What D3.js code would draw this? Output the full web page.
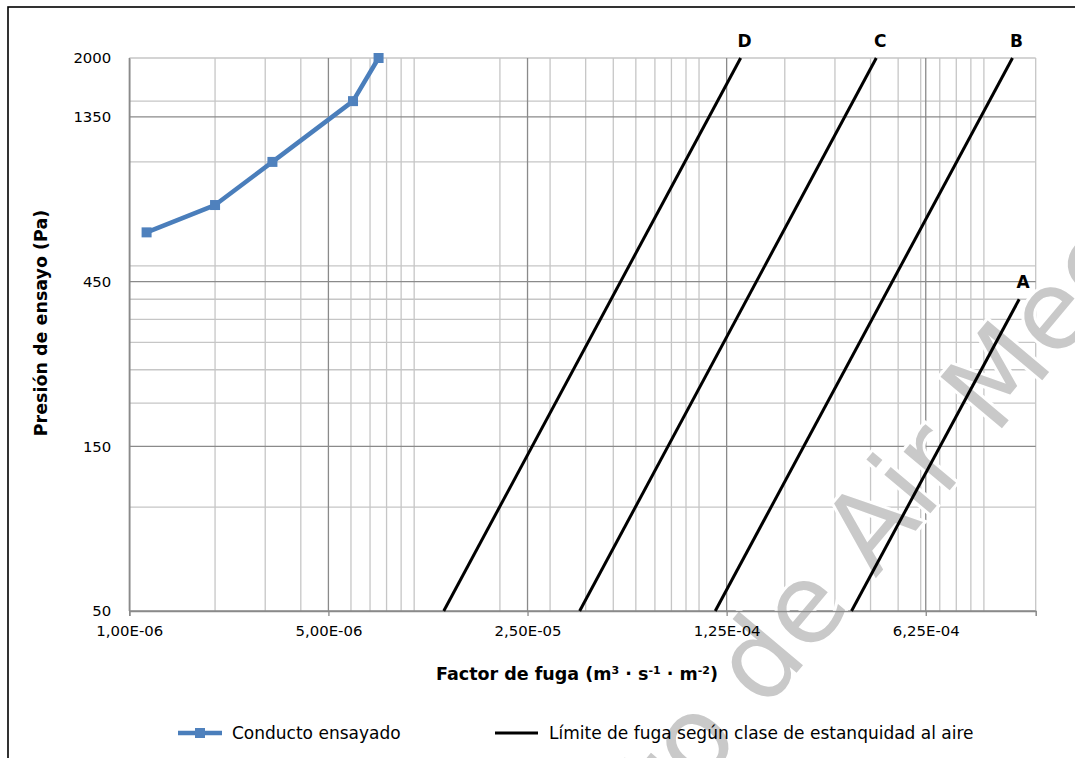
<!DOCTYPE html>
<html>
<head>
<meta charset="utf-8">
<script src="https://cdn.jsdelivr.net/npm/d3@7"></script>
<style>
  html, body { margin: 0; padding: 0; background: #fff; }
  svg { display: block; }
  text { font-family: "DejaVu Sans", Verdana, sans-serif; }
</style>
</head>
<body>
<svg id="chart" width="1075" height="758"></svg>
<script>
// ---------------- data ----------------
const xMajorTicks = [1e-6, 5e-6, 2.5e-5, 1.25e-4, 6.25e-4];
const xMajorLabels = ["1,00E-06", "5,00E-06", "2,50E-05", "1,25E-04", "6,25E-04"];
const xMinorTicks = [2e-6, 3e-6, 4e-6, 6e-6, 7e-6, 8e-6, 9e-6, 1e-5, 2e-5, 3e-5, 4e-5, 5e-5,
                     6e-5, 7e-5, 8e-5, 9e-5, 1e-4, 2e-4, 3e-4, 4e-4, 5e-4, 6e-4, 7e-4, 8e-4, 9e-4, 1e-3];
const yMajorTicks = [50, 150, 450, 1350];
const yLabelTicks = [50, 150, 450, 1350, 2000];
const yLabels = ["50", "150", "450", "1350", "2000"];
const yMinorTicks = [100, 200, 250, 300, 350, 400, 500, 1000, 1500, 2000];

// Tested duct
const testFlow = [1.15e-6, 2.0e-6, 3.18e-6, 6.1e-6, 7.5e-6];
const testPressure = [625, 750, 1000, 1500, 2000];

// Leakage limits per air tightness class
const classNames = ["A", "B", "C", "D"];
const classPressure = [[50, 400], [50, 2000], [50, 2000], [50, 2000]];
const classFlow = [[3.43e-4, 1.33e-3], [1.14e-4, 1.26e-3], [3.81e-5, 4.19e-4], [1.27e-5, 1.40e-4]];

const legendNames = ["Conducto ensayado", "Límite de fuga según clase de estanquidad al aire"];
const watermarkText = "Documento de Air Meco";

// ---------------- layout ----------------
const svg = d3.select("#chart");
const L = 129.3, R = 1035.7, T = 58, B = 611;
const x = d3.scaleLog().domain([1e-6, 1.52e-3]).range([L, R]);
const y = d3.scaleLog().domain([50, 2000]).range([B, T]);

// outer frame
svg.append("rect").attr("x", 8).attr("y", 7).attr("width", 1200).attr("height", 900)
  .attr("fill", "#fff").attr("stroke", "#000").attr("stroke-width", 1.6);

const minorColor = "#c6c6c6", majorColor = "#8a8a8a";
const grid = svg.append("g");
grid.selectAll(".xminor").data(xMinorTicks).join("line")
  .attr("x1", d => x(d)).attr("x2", d => x(d)).attr("y1", T).attr("y2", B)
  .attr("stroke", minorColor).attr("stroke-width", 1.3);
grid.selectAll(".yminor").data(yMinorTicks).join("line")
  .attr("x1", L).attr("x2", R).attr("y1", d => y(d)).attr("y2", d => y(d))
  .attr("stroke", minorColor).attr("stroke-width", 1.3);
grid.append("line").attr("x1", R).attr("x2", R).attr("y1", T).attr("y2", B)
  .attr("stroke", minorColor).attr("stroke-width", 1.3);
grid.selectAll(".xmajor").data(xMajorTicks).join("line")
  .attr("x1", d => x(d)).attr("x2", d => x(d)).attr("y1", T).attr("y2", B)
  .attr("stroke", majorColor).attr("stroke-width", 1.3);
grid.selectAll(".ymajor").data(yMajorTicks).join("line")
  .attr("x1", L).attr("x2", R).attr("y1", d => y(d)).attr("y2", d => y(d))
  .attr("stroke", majorColor).attr("stroke-width", 1.3);

// watermark
svg.append("text")
  .attr("transform", "translate(757,720) rotate(-50)")
  .attr("text-anchor", "middle")
  .attr("font-size", 110)
  .attr("fill", "#c9c9c9")
  .attr("stroke", "#fff").attr("stroke-width", 6).attr("paint-order", "stroke")
  .text(watermarkText);

// axes
const xAxis = d3.axisBottom(x).tickValues(xMajorTicks)
  .tickFormat((d, i) => xMajorLabels[i]).tickSize(5).tickPadding(9);
const gx = svg.append("g").attr("transform", `translate(0,${B})`).call(xAxis);
gx.select(".domain").attr("stroke", majorColor).attr("stroke-width", 1.5);
gx.selectAll(".tick line").attr("stroke", majorColor).attr("stroke-width", 1.3);
gx.selectAll(".tick text").attr("font-size", 14.9).attr("fill", "#000")
  .attr("font-family", "DejaVu Sans");

const yAxis = d3.axisLeft(y).tickValues(yLabelTicks)
  .tickFormat((d, i) => yLabels[i]).tickSize(0).tickPadding(18);
const gy = svg.append("g").attr("transform", `translate(${L},0)`).call(yAxis);
gy.select(".domain").attr("stroke", majorColor).attr("stroke-width", 1.5);
gy.selectAll(".tick text").attr("font-size", 14.9).attr("fill", "#000")
  .attr("font-family", "DejaVu Sans");

// axis titles
svg.append("text").attr("x", 577).attr("y", 680).attr("text-anchor", "middle")
  .attr("font-size", 17.5).attr("font-weight", "bold")
  .call(t => {
    t.append("tspan").text("Factor de fuga (m");
    t.append("tspan").attr("font-size", 11).attr("dy", -6).text("3");
    t.append("tspan").attr("dy", 6).text(" · s");
    t.append("tspan").attr("font-size", 11).attr("dy", -6).text("-1");
    t.append("tspan").attr("dy", 6).text(" · m");
    t.append("tspan").attr("font-size", 11).attr("dy", -6).text("-2");
    t.append("tspan").attr("dy", 6).text(")");
  });
svg.append("text").attr("transform", "translate(47,323) rotate(-90)")
  .attr("text-anchor", "middle").attr("font-size", 17.5).attr("font-weight", "bold")
  .text("Presión de ensayo (Pa)");

// limit lines
const classLine = d3.line().x(d => x(d[1])).y(d => y(d[0]));
classNames.forEach((name, i) => {
  const pts = classPressure[i].map((p, j) => [p, classFlow[i][j]]);
  svg.append("path").attr("d", classLine(pts)).attr("fill", "none")
    .attr("stroke", "#000").attr("stroke-width", 3);
  const last = pts[pts.length - 1];
  svg.append("text").attr("x", x(last[1]) + 4).attr("y", y(last[0]) - 11)
    .attr("text-anchor", "middle").attr("font-size", 17).attr("font-weight", "bold")
    .text(name);
});

// test series
const blue = "#4a7ebb";
const testPts = testFlow.map((f, i) => [testPressure[i], f]);
svg.append("path").attr("d", classLine(testPts)).attr("fill", "none")
  .attr("stroke", blue).attr("stroke-width", 4.5).attr("stroke-linejoin", "round");
svg.selectAll(".mk").data(testPts).join("rect")
  .attr("x", d => x(d[1]) - 5).attr("y", d => y(d[0]) - 5)
  .attr("width", 10).attr("height", 10).attr("fill", "#4f81bd");

// legend
const lg = svg.append("g");
lg.append("line").attr("x1", 178).attr("x2", 222).attr("y1", 733).attr("y2", 733)
  .attr("stroke", blue).attr("stroke-width", 4.5);
lg.append("rect").attr("x", 195).attr("y", 728).attr("width", 10).attr("height", 10).attr("fill", "#4f81bd");
lg.append("text").attr("x", 232).attr("y", 739).attr("font-size", 17).text(legendNames[0]);
lg.append("line").attr("x1", 495).attr("x2", 538).attr("y1", 733).attr("y2", 733)
  .attr("stroke", "#000").attr("stroke-width", 3);
lg.append("text").attr("x", 549).attr("y", 739).attr("font-size", 17).text(legendNames[1]);
</script>
</body>
</html>
